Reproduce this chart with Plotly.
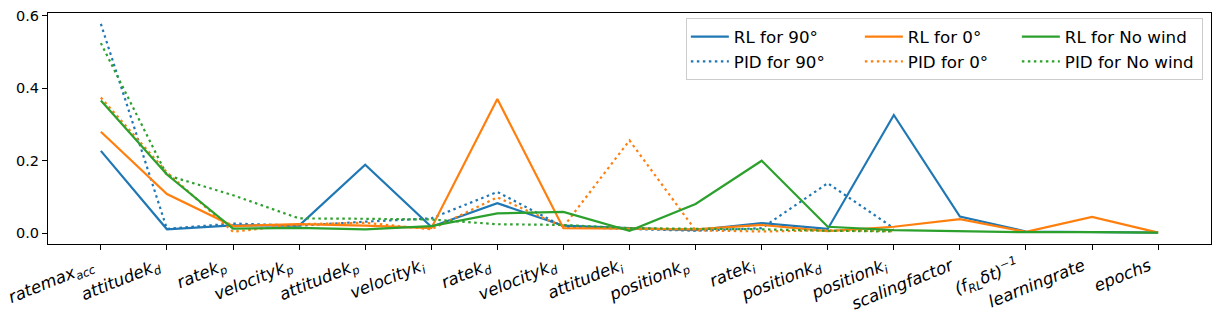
import plotly.graph_objects as go

# x tick labels (matplotlib mathtext -> italic html)
categories = [
    "ratemax<sub>acc</sub>", "attitudek<sub>d</sub>", "ratek<sub>p</sub>",
    "velocityk<sub>p</sub>", "attitudek<sub>p</sub>", "velocityk<sub>i</sub>",
    "ratek<sub>d</sub>", "velocityk<sub>d</sub>", "attitudek<sub>i</sub>",
    "positionk<sub>p</sub>", "ratek<sub>i</sub>", "positionk<sub>d</sub>",
    "positionk<sub>i</sub>", "scalingfactor", "(f<sub>RL</sub>δt)<sup>−1</sup>",
    "learningrate", "epochs",
]

rl_90 = [0.227, 0.011, 0.022, 0.021, 0.189, 0.018, 0.083, 0.021, 0.014, 0.009,
         0.028, 0.012, 0.326, 0.046, 0.005, 0.004, 0.002]
pid_90 = [0.577, 0.012, 0.027, 0.021, 0.032, 0.041, 0.114, 0.018, 0.012, 0.007,
          0.014, 0.138, 0.014]
rl_0 = [0.280, 0.108, 0.020, 0.025, 0.021, 0.014, 0.370, 0.014, 0.013, 0.011,
        0.023, 0.006, 0.018, 0.039, 0.004, 0.045, 0.002]
pid_0 = [0.374, 0.168, 0.004, 0.025, 0.029, 0.011, 0.099, 0.018, 0.256, 0.008,
         0.005, 0.008, 0.006]
rl_nw = [0.366, 0.162, 0.013, 0.015, 0.011, 0.020, 0.055, 0.059, 0.007, 0.081,
         0.200, 0.018, 0.009, 0.005, 0.003, 0.003, 0.002]
pid_nw = [0.524, 0.160, 0.105, 0.041, 0.040, 0.038, 0.025, 0.023, 0.014, 0.013,
          0.011, 0.007, 0.005]

# name, values, colour, dotted?, legend column, column width
series = [
    ("RL for 90°", rl_90, "#1f77b4", False, "g90", 121),
    ("PID for 90°", pid_90, "#1f77b4", True, "g90", 121),
    ("RL for 0°", rl_0, "#ff7f0e", False, "g0", 104),
    ("PID for 0°", pid_0, "#ff7f0e", True, "g0", 104),
    ("RL for No wind", rl_nw, "#2ca02c", False, "gnw", 132),
    ("PID for No wind", pid_nw, "#2ca02c", True, "gnw", 132),
]

fig = go.Figure()
for name, vals, color, dotted, grp, lw in series:
    fig.add_trace(go.Scatter(
        x=list(range(len(vals))), y=vals, mode="lines", name=name,
        legendgroup=grp, legendwidth=lw,
        line=dict(color=color, width=2.2, dash="2.5px,3.5px" if dotted else "solid"),
    ))

fig.update_layout(
    width=1220, height=327,
    margin=dict(l=48, r=9, t=13, b=83),
    paper_bgcolor="white", plot_bgcolor="white",
    font=dict(family="DejaVu Sans", color="black"),
    showlegend=True,
    legend=dict(
        orientation="h", traceorder="grouped", tracegroupgap=0,
        x=0.993, xanchor="right", y=0.977, yanchor="top",
        bordercolor="#cccccc", borderwidth=1, bgcolor="rgba(255,255,255,0.8)",
        font=dict(size=16.7, family="DejaVu Sans"), itemwidth=38,
    ),
)
fig.update_xaxes(
    range=[-0.8, 16.8], tickvals=list(range(len(categories))),
    ticktext=["<i>" + c + "</i>" for c in categories],
    tickangle=-22, tickfont=dict(size=16.7), automargin=False,
    ticklabeloverflow="allow", ticklabelshift=-9,
    showline=True, mirror=True, linecolor="black", linewidth=1,
    ticks="outside", ticklen=5, tickcolor="black", showgrid=False, zeroline=False,
)
fig.update_yaxes(
    range=[-0.0295, 0.607], tickvals=[0.0, 0.2, 0.4, 0.6], tickformat=".1f",
    tickfont=dict(size=14.5), automargin=False, ticklabeloverflow="allow",
    showline=True, mirror=True, linecolor="black", linewidth=1,
    ticks="outside", ticklen=5, tickcolor="black", showgrid=False, zeroline=False,
)

# drop the default 8px page margin so the figure sits at the window corner
fig.write_html("out.html", config={"displayModeBar": False},
               post_script="document.body.style.margin='0px';")
